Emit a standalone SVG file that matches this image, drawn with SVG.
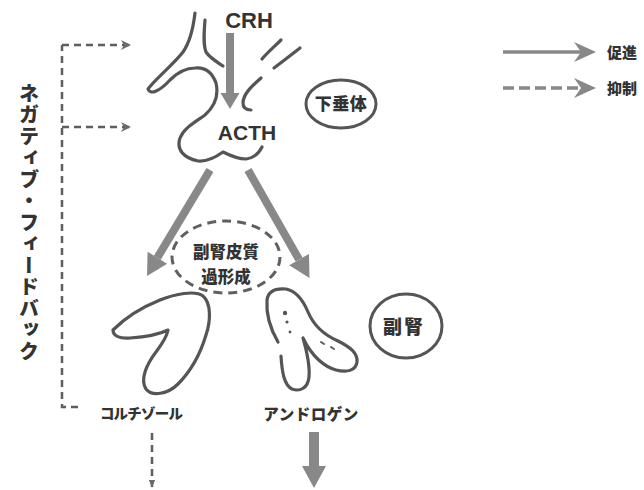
<svg xmlns="http://www.w3.org/2000/svg" width="644" height="490" viewBox="0 0 644 490">
  <defs>
    <style>
      .bg { fill: #ffffff; }
      .outline { fill: none; stroke: #555555; stroke-width: 3.2; stroke-linecap: round; stroke-linejoin: round; }
      .thin { fill: none; stroke: #5a5a5a; stroke-width: 2; stroke-linecap: round; }
      .big { stroke: #888888; stroke-linecap: butt; fill: none; }
      .head { fill: #888888; }
      .dash { fill: none; stroke: #5e5e5e; stroke-width: 2.5; stroke-dasharray: 7 5; }
      .ring { fill: none; stroke: #555555; stroke-width: 3; }
      .ringdash { fill: none; stroke: #606060; stroke-width: 3; stroke-dasharray: 9 6; }
      .lat { font-family: "Liberation Sans", Arial, sans-serif; font-weight: 700; fill: #333333; }
      .jp { font-family: "Noto Sans CJK JP", "Noto Sans", sans-serif; font-weight: 900; fill: #333333; }
      .chev { fill: #6a6a6a; }
      .lchev { fill: #888888; }
    </style>
    <marker id="smallChev" markerUnits="userSpaceOnUse" viewBox="0 0 10 10" refX="9" refY="5" markerWidth="10" markerHeight="10" orient="auto">
      <path class="chev" d="M0,0 L10,5 L0,10 L3,5 Z"/>
    </marker>
    <marker id="tinyHead" markerUnits="userSpaceOnUse" viewBox="0 0 10 10" refX="9" refY="5" markerWidth="8" markerHeight="8" orient="auto">
      <path class="chev" d="M0,1 L10,5 L0,9 Z"/>
    </marker>
  </defs>

  <rect class="bg" x="0" y="0" width="644" height="490"/>

  <!-- pituitary with stalk -->
  <g id="pituitary">
    <path class="outline" d="M195,13 C193,30 190,42 183,52 C172,66 156,78 148,89 C150,95 159,92 170,80 C178,72 186,68 195,68 C205,67 212,72 216,83 C219,96 214,107 205,115 C195,122 184,128 180,138 C176,150 184,158 198,161 C208,162 216,157 223,152 C229,155 237,159 246,159 C254,158 259,153 262,147"/>
    <path class="outline" d="M205,20 C204,33 203,44 206,52 C210,58 217,62 223,66"/>
    <path class="outline" d="M281,40 C274,47 267,53 262,59"/>
    <path class="outline" d="M300,48 C291,55 282,62 274,68"/>
    <path class="outline" d="M261,78 C252,86 243,94 243,103 C243,108 246,110 251,110"/>
    <text class="lat" x="249" y="28" font-size="22" text-anchor="middle">CRH</text>
    <text class="lat" x="247" y="140" font-size="21" text-anchor="middle">ACTH</text>
  </g>

  <g id="label-pituitary">
    <ellipse class="ring" cx="341" cy="104" rx="35" ry="24"/>
    <text class="jp" x="341" y="110" font-size="17" letter-spacing="0.5" text-anchor="middle">下垂体</text>
  </g>

  <!-- adrenal glands -->
  <g id="adrenal-left">
    <path class="outline" d="M113,330 C125,318 140,308 160,300 C175,294 195,290 203,296 C211,303 211,320 206,335 C200,355 190,372 178,384 C168,394 152,397 146,389 C140,380 146,365 156,352 C162,344 167,336 168,330 C160,334 145,337 130,338 C120,339 113,336 113,330 Z"/>
  </g>

  <g id="adrenal-right">
    <path class="outline" d="M278,342 C271,330 266,314 267,300 C268,292 274,288 286,289 C296,291 303,300 308,312 C313,324 322,334 338,341 C350,347 358,353 357,362 C356,370 348,373 336,370 C325,367 312,357 303,338 C307,352 310,366 309,377 C308,388 300,392 292,389 C284,385 282,372 281,356"/>
    <circle cx="285" cy="313" r="2.2" fill="#555555"/>
    <circle cx="287" cy="322" r="1.6" fill="#555555"/>
    <circle cx="290" cy="332" r="1.4" fill="#555555"/>
    <path class="thin" d="M321,342 L324,344 M331,347 L334,349"/>
  </g>

  <g id="label-adrenal">
    <ellipse class="ring" cx="406" cy="326" rx="36" ry="32"/>
    <text class="jp" x="404" y="334" font-size="19" letter-spacing="2" text-anchor="middle">副腎</text>
  </g>

  <g id="hyperplasia">
    <ellipse class="ringdash" cx="226" cy="257" rx="54" ry="36"/>
    <text class="jp" x="226" y="258" font-size="16.5" text-anchor="middle">副腎皮質</text>
    <text class="jp" x="226" y="283" font-size="16.5" text-anchor="middle">過形成</text>
  </g>

  <g id="cortisol">
    <text class="jp" x="141" y="419" font-size="14.5" letter-spacing="-0.8" text-anchor="middle">コルチゾール</text>
  </g>

  <g id="androgen">
    <text class="jp" x="311" y="420" font-size="15.5" letter-spacing="0.5" text-anchor="middle">アンドロゲン</text>
  </g>

  <g id="feedback-label">
    <text class="jp" x="29" y="83" font-size="20" letter-spacing="1.5" writing-mode="vertical-rl">ネガティブ・フィードバック</text>
  </g>

  <g id="legend">
    <line x1="503" y1="52" x2="584" y2="52" stroke="#888888" stroke-width="3.5"/>
    <path class="lchev" d="M574,42 L596,52 L574,62 L581,52 Z"/>
    <line x1="503" y1="88" x2="584" y2="88" stroke="#888888" stroke-width="3.5" stroke-dasharray="11 5"/>
    <path class="lchev" d="M574,78 L596,88 L574,98 L581,88 Z"/>
    <text class="jp" x="607" y="58" font-size="15">促進</text>
    <text class="jp" x="607" y="94" font-size="15">抑制</text>
  </g>

  <!-- connectors -->
  <g id="connectors">
    <!-- CRH -> ACTH -->
    <line class="big" x1="230" y1="33" x2="230" y2="95" stroke-width="8"/>
    <polygon class="head" points="220.5,93 239.5,93 230,109"/>
    <!-- ACTH -> left adrenal -->
    <line class="big" x1="210" y1="170" x2="157.3" y2="257.8" stroke-width="8"/>
    <polygon class="head" points="147,276 167.2,263.8 147.6,251.8"/>
    <!-- ACTH -> right adrenal -->
    <line class="big" x1="248" y1="170" x2="299.1" y2="259.6" stroke-width="8"/>
    <polygon class="head" points="309.5,278 289.2,265.3 309,253.9"/>
    <!-- androgen output -->
    <line class="big" x1="314" y1="432" x2="314" y2="468" stroke-width="10"/>
    <polygon class="head" points="302,466 326,466 314,488"/>
    <!-- negative feedback loop -->
    <path class="dash" d="M78,407 L62,407 L62,45"/>
    <line class="dash" x1="62" y1="45" x2="130" y2="45" marker-end="url(#smallChev)"/>
    <line class="dash" x1="62" y1="127" x2="130" y2="127" marker-end="url(#smallChev)"/>
    <!-- cortisol output -->
    <line class="dash" x1="152" y1="433" x2="152" y2="487" stroke-dasharray="5 4" marker-end="url(#tinyHead)"/>
  </g>
</svg>
